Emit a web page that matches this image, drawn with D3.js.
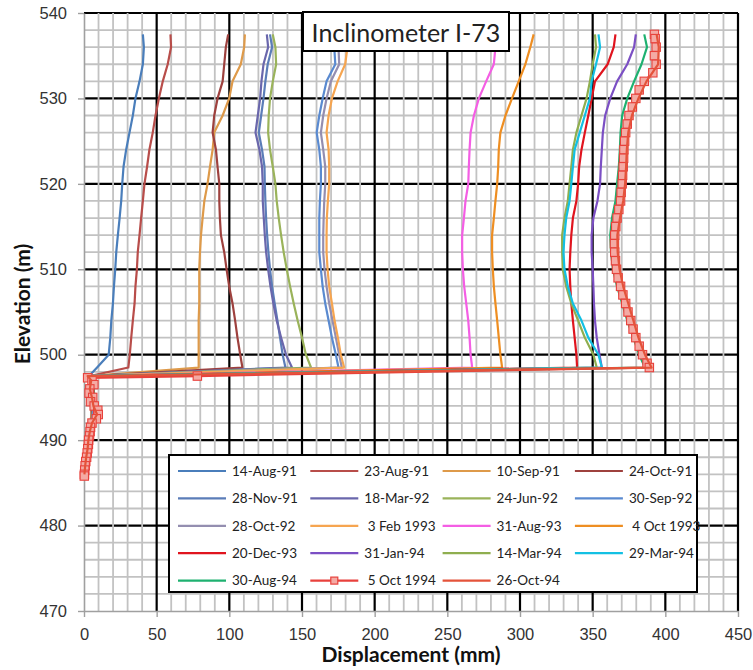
<!DOCTYPE html>
<html>
<head>
<meta charset="utf-8">
<script src="https://cdn.jsdelivr.net/npm/d3@7"></script>
<style>
  html, body { margin: 0; padding: 0; background: #fff; }
  svg { display: block; font-family: Lato, "Open Sans", "DejaVu Sans", sans-serif; }
</style>
</head>
<body>
<svg id="chart" width="753" height="670"></svg>
<script>
// Reading elevations (m): profile above the shear zone, then the toe below it
const ELEV = [537.5, 536, 534, 532, 530, 528, 526, 524, 522, 520, 518, 516, 514, 512, 510, 508, 506, 504, 502, 500, 498.5,
              497.5, 497, 496, 495, 494, 493, 492, 491, 490, 489, 488, 487, 486];

// The 5 Oct 1994 survey was read at a closer spacing
const ELEV_OCT94 = [537.5, 537, 536, 535, 534, 533, 532, 531, 530, 529, 528, 527, 526, 525, 524, 523, 522, 521, 520, 519,
                    518, 517, 516, 515, 514, 513, 512, 511, 510, 509, 508, 507, 506, 505, 504, 503, 502, 501, 500, 499, 498.5,
                    497.5, 497.3, 497, 496.5, 496, 495.5, 495, 494.5, 494, 493.5, 493, 492.5, 492, 491.5, 491, 490.5, 490,
                    489.5, 489, 488.5, 488, 487.5, 487, 486.5, 486, 485.8];

// Cumulative displacement (mm) for each survey date
const aug14_91 = [40.5, 41.2, 40.5, 38.2, 35.4, 33.6, 31.3, 29, 27.2, 26.3, 25.6, 24.5, 23.3, 22.2, 21.5, 20.6, 19.9, 18.8, 18.1, 17, 9,
                  3.5, 3.5, 4, 4.5, 5, 5, 5];
const aug23_91 = [59.5, 59.9, 57.6, 54.2, 51.5, 49.2, 47.3, 45, 43.4, 41.6, 40.5, 39.3, 38.2, 37, 36.4, 35.4, 34.8, 33.6, 32.5, 31.5, 30.5,
                  4, 4, 4.5, 5, 5, 5.5, 5];
const sep10_91 = [110.7, 110.2, 107.9, 102.2, 99.9, 95.4, 89.6, 88.5, 86.7, 85, 82.8, 81.6, 80.5, 79.8, 79.3, 79.3, 79.3, 78.9, 78.9, 78.9, 78.9,
                  3, 4, 4.5, 5, 5.5, 5, 4.5];
const oct24_91 = [99.2, 97.6, 96.5, 95.4, 91.9, 89.6, 88.5, 90.8, 91.9, 93.1, 93.1, 93.5, 94.2, 96.5, 98.1, 99.9, 102.2, 104, 105.6, 107.5, 109,
                  3, 4.5, 5, 5, 6, 5.5, 5];
const nov28_91 = [128, 129.4, 126.4, 124.8, 123.5, 121.9, 120.3, 122.5, 124.2, 124.4, 124.8, 125.3, 126, 126.9, 128, 129.4, 131.2, 133.1, 134.9, 136.7, 138.6,
                  3.5, 4.5, 5.5, 5, 6.5, 6, 5];
const mar18_92 = [125.8, 126.7, 123.5, 122.1, 121.2, 119.6, 118, 120.7, 122.5, 123, 123, 123.7, 124.4, 125.3, 126.7, 128.3, 130.3, 132.6, 135.6, 139, 143.1,
                  3, 4, 5, 5.5, 6, 6.5, 5];
const jun24_92 = [129.9, 131.7, 132.2, 129.9, 128, 127.1, 126.7, 128, 129.9, 131.7, 132.6, 134, 135.6, 137.4, 139.5, 141.8, 144.3, 147, 150, 152.7, 156.2,
                  3.5, 5, 5.5, 6, 6.5, 6, 5.5];
const sep30_92 = [172.2, 172.2, 172.9, 166.9, 164.2, 161.9, 160.1, 161.9, 163, 163, 162.3, 161.9, 161.9, 161.9, 163, 164.2, 166, 168.3, 170.6, 173.3, 175.1,
                  3, 4.5, 5, 6, 6.5, 6, 5.5];
const oct28_92 = [174.5, 175.1, 175.6, 169.9, 166.9, 164.6, 163, 164.6, 166, 166, 165.3, 164.9, 164.6, 164.6, 165.5, 166.9, 168.7, 171, 173.3, 175.6, 177.4,
                  3.5, 4.5, 5.5, 6, 7, 6.5, 5.5];
const feb03_93 = [180.6, 181.3, 179.7, 174.5, 170.6, 168.3, 166.9, 168.3, 168.7, 168.7, 167.8, 167.1, 166.9, 166.9, 167.6, 168.7, 170.6, 172.4, 174.7, 176.7, 179,
                  3, 5, 5.5, 6, 7, 7, 6];
const aug31_93 = [283.1, 283.1, 282, 276.7, 271.7, 268.3, 266, 265.3, 264.8, 264.4, 262.5, 261.4, 260.2, 260.2, 260.7, 261.6, 263, 264.4, 265.3, 266, 267.1,
                  3.5, 5, 6, 6.5, 7, 7.5, 6];
const oct04_93 = [309.4, 307.1, 303.7, 299.1, 294.5, 290, 286.5, 285.4, 285, 284.3, 283.1, 282, 280.8, 280.8, 281.3, 282, 283.1, 284.3, 285.4, 286.5, 287.7,
                  3, 5, 6, 6.5, 7.5, 7.5, 6];
const dec20_93 = [365.7, 364.5, 360.3, 351.6, 349.3, 347, 344.6, 342.3, 340.7, 340, 338.8, 336.4, 335.3, 334.6, 334.1, 334.6, 335.3, 336.4, 337.6, 338.8, 339.3,
                  3, 5.5, 6, 6.5, 7.5, 8, 6];
const jan31_94 = [379.7, 378.5, 373.8, 366.8, 362.1, 358.6, 357, 356.3, 355.6, 355.1, 353.3, 350.5, 349.3, 349.3, 350, 350.5, 350.9, 351.6, 352.8, 354.7, 356.3,
                  3.5, 5.5, 6, 7, 7.5, 8, 6.5];
const mar14_94 = [351.6, 352.3, 350, 348.1, 345.8, 342.3, 338.8, 336.4, 335.3, 334.1, 332.9, 330.6, 329, 329, 329.4, 331.8, 335.3, 340, 344.6, 350.5, 352.8,
                  3, 5.5, 6.5, 7, 7.5, 8, 6.5];
const mar29_94 = [354, 355.1, 352.3, 349.3, 348.1, 344.6, 341.1, 337.6, 336.4, 335.3, 334.1, 331.8, 330.6, 329.9, 330.6, 332.9, 336.4, 342.3, 347, 354, 356.3,
                  3.5, 5.5, 6.5, 7, 8, 8.5, 6.5];
const aug30_94 = [385.5, 387.4, 383.6, 378.5, 373.8, 370.3, 369.2, 368.7, 368, 366.8, 365.7, 363.3, 362.1, 362.6, 364, 366.8, 370.3, 373.8, 378, 382, 386,
                  3, 6, 6.5, 7.5, 8, 8.5, 7];
const oct05_94 = [392.5, 393, 393.7, 392.5, 393.7, 391.4, 385.5, 382, 379.7, 377.3, 375, 373.8, 372.7, 372, 371.5, 371.3, 371, 370.6, 370.3, 369.6,
                  369.2, 368, 366.8, 365.9, 365.2, 365, 365.2, 365.7, 366.4, 367.5, 369.2, 370.8, 372.7, 374.3, 376.2, 377.8, 379.7, 382, 384.3, 387.4, 389,
                  78, 2.5, 5.5, 6.8, 4, 3.5, 6, 4.5, 7, 9.5, 9.8, 8.5, 5.5, 4.5, 4.2, 3.8, 3.2, 3, 2.6, 2.2, 1.8, 1.2, 0.8, 0.5, 0.3, 0.2];
const oct26_94 = [394, 395.5, 395, 387, 381.5, 377, 374.5, 373.5, 373, 372.3, 371, 368.8, 367, 367.2, 368.5, 371, 374.5, 378, 381.5, 386, 390.5,
                  2.5, 5, 4, 5.5, 6.5, 9, 5.5, 4, 3, 2.5, 1.5, 0.8, 0.3];

const SURVEY_DATES = ["14-Aug-91", "23-Aug-91", "10-Sep-91", "24-Oct-91", "28-Nov-91", "18-Mar-92", "24-Jun-92", "30-Sep-92",
                      "28-Oct-92", "\u00a03 Feb 1993", "31-Aug-93", "\u00a04 Oct 1993", "20-Dec-93", "31-Jan-94", "14-Mar-94",
                      "29-Mar-94", "30-Aug-94", "\u00a05 Oct 1994", "26-Oct-94"];
const SURVEY_VALUES = [aug14_91, aug23_91, sep10_91, oct24_91, nov28_91, mar18_92, jun24_92, sep30_92, oct28_92, feb03_93,
                       aug31_93, oct04_93, dec20_93, jan31_94, mar14_94, mar29_94, aug30_94, oct05_94, oct26_94];
const SURVEY_COLORS = ["#4A7EBB", "#B84D4A", "#DE9A4A", "#9E413E", "#5B7DB8", "#6A67AC", "#9AB35A", "#5A8AD0",
                       "#948EB0", "#F6A550", "#F45EE4", "#EE8E22", "#E0141E", "#7B4FC4", "#8FAE4F",
                       "#13C0E3", "#1EB170", "#E8413C", "#E4533A"];
const MARKED_SURVEY = "\u00a05 Oct 1994";

const X_TICKS = [0, 50, 100, 150, 200, 250, 300, 350, 400, 450];
const Y_TICKS = [470, 480, 490, 500, 510, 520, 530, 540];

const svg = d3.select("#chart");
const x = d3.scaleLinear().domain([0, 450]).range([84, 738]);
const y = d3.scaleLinear().domain([470, 540]).range([611, 13]);

svg.append("rect").attr("width", 753).attr("height", 670).attr("fill", "#fff");

// Gridlines: horizontal majors, then the grey minor mesh, then vertical majors
const grid = svg.append("g");
const xMinor = d3.range(10, 450, 10).filter(v => v % 50 !== 0);
const yMinor = d3.range(472, 540, 2).filter(v => v % 10 !== 0);
grid.selectAll(".hmaj").data(Y_TICKS.filter(v => v > 470)).join("line")
  .attr("x1", x(0)).attr("x2", x(450)).attr("y1", d => y(d)).attr("y2", d => y(d))
  .attr("stroke", "#000").attr("stroke-width", 2.2);
grid.selectAll(".vmin").data(xMinor).join("line")
  .attr("x1", d => x(d)).attr("x2", d => x(d)).attr("y1", y(470)).attr("y2", y(540))
  .attr("stroke", "#c2c2c2").attr("stroke-width", 1.8);
grid.selectAll(".hmin").data(yMinor).join("line")
  .attr("x1", x(0)).attr("x2", x(450)).attr("y1", d => y(d)).attr("y2", d => y(d))
  .attr("stroke", "#c2c2c2").attr("stroke-width", 1.8);
grid.selectAll(".vmaj").data(X_TICKS.filter(v => v > 0)).join("line")
  .attr("x1", d => x(d)).attr("x2", d => x(d)).attr("y1", y(470)).attr("y2", y(540))
  .attr("stroke", "#000").attr("stroke-width", 2.2);

// Axes
const styleAxis = g => {
  g.select(".domain").attr("stroke", "#a0a0a0").attr("stroke-width", 1.6);
  g.selectAll(".tick line").attr("stroke", "#a0a0a0").attr("stroke-width", 1.4);
  g.selectAll(".tick text").attr("fill", "#333").attr("font-size", 16.5);
};
svg.append("g").attr("transform", `translate(0,${y(470)})`)
  .call(d3.axisBottom(x).tickValues(X_TICKS).tickFormat(d3.format("d")).tickSizeInner(6).tickSizeOuter(0).tickPadding(11))
  .call(styleAxis);
svg.append("g").attr("transform", `translate(${x(0)},0)`)
  .call(d3.axisLeft(y).tickValues(Y_TICKS).tickFormat(d3.format("d")).tickSizeInner(6).tickSizeOuter(0).tickPadding(11))
  .call(styleAxis);

svg.append("text").attr("x", (x(0) + x(450)) / 2).attr("y", 662).attr("text-anchor", "middle")
  .attr("font-size", 21).attr("font-weight", "bold").attr("fill", "#111").text("Displacement (mm)");
svg.append("text").attr("transform", `translate(30,${(y(470) + y(540)) / 2 - 8}) rotate(-90)`).attr("text-anchor", "middle")
  .attr("font-size", 21).attr("font-weight", "bold").attr("fill", "#111").text("Elevation (m)");

// Survey profiles
const line = d3.line().x(d => x(d[1])).y(d => y(d[0]));
const profiles = SURVEY_DATES.map((name, i) => {
  const elev = name === MARKED_SURVEY ? ELEV_OCT94 : ELEV;
  return { name, color: SURVEY_COLORS[i], pts: SURVEY_VALUES[i].map((v, k) => [elev[k], v]) };
});
const plot = svg.append("g");
profiles.forEach(p => {
  plot.append("path").attr("d", line(p.pts)).attr("fill", "none")
    .attr("stroke", p.color).attr("stroke-width", 2.2).attr("stroke-linejoin", "round");
  if (p.name === MARKED_SURVEY) {
    plot.append("g").selectAll("rect").data(p.pts).join("rect")
      .attr("x", d => x(d[1]) - 4.2).attr("y", d => y(d[0]) - 4.2)
      .attr("width", 8.4).attr("height", 8.4)
      .attr("fill", "#f4aaa4").attr("stroke", p.color).attr("stroke-width", 1.1);
  }
});

// Chart title
svg.append("rect").attr("x", 303).attr("y", 12).attr("width", 206).attr("height", 39)
  .attr("fill", "#fff").attr("stroke", "#000").attr("stroke-width", 2);
svg.append("text").attr("x", 406).attr("y", 41.5).attr("text-anchor", "middle")
  .attr("font-size", 25).attr("fill", "#222").text("Inclinometer I-73");

// Legend
const legend = svg.append("g");
legend.append("rect").attr("x", 169).attr("y", 455).attr("width", 528).attr("height", 137)
  .attr("fill", "#fff").attr("stroke", "#000").attr("stroke-width", 2);
profiles.forEach((p, i) => {
  const lx = 178 + (i % 4) * 132.3;
  const ly = 471 + Math.floor(i / 4) * 27.4;
  legend.append("line").attr("x1", lx).attr("x2", lx + 48).attr("y1", ly).attr("y2", ly)
    .attr("stroke", p.color).attr("stroke-width", 2.2);
  if (p.name === MARKED_SURVEY) {
    legend.append("rect").attr("x", lx + 20.5).attr("y", ly - 3.5).attr("width", 7).attr("height", 7)
      .attr("fill", "#f4aaa4").attr("stroke", p.color).attr("stroke-width", 1.2);
  }
  legend.append("text").attr("x", lx + 54).attr("y", ly).attr("dy", "0.36em")
    .attr("font-size", 13.5).attr("fill", "#222").style("white-space", "pre").text(p.name);
});
</script>
</body>
</html>
